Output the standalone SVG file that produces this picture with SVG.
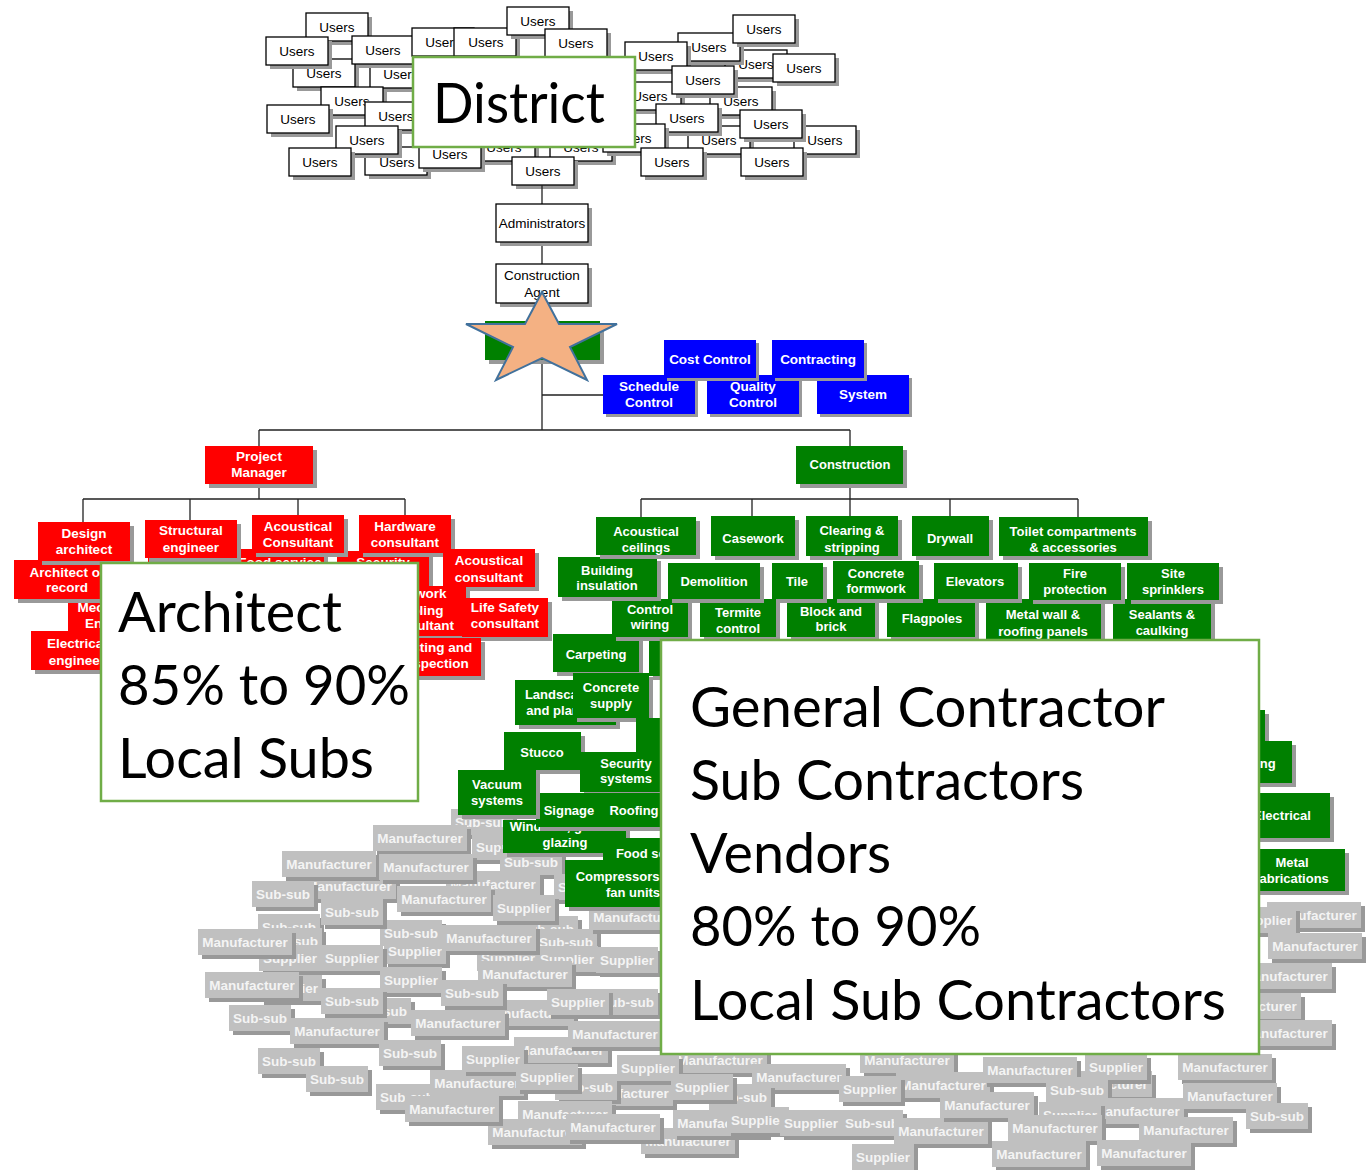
<svg xmlns="http://www.w3.org/2000/svg" width="1372" height="1170" viewBox="0 0 1372 1170">
<style>
.ut{font:13.5px 'Liberation Sans',Arial,sans-serif;fill:#000;text-anchor:middle}
.wt{font:bold 13.5px 'Liberation Sans',Arial,sans-serif;fill:#fff;text-anchor:middle}
.wg{font:bold 13px 'Liberation Sans',Arial,sans-serif;fill:#fff;text-anchor:middle}
.gt{font:bold 13.5px 'Liberation Sans',Arial,sans-serif;fill:#f4f4f4;text-anchor:middle}
.big{font-family:Lato,'Open Sans',sans-serif;font-size:57px;fill:#000}
.sh{fill:#999}
.gr{fill:#008000}
.rd{fill:#ff0000}
.bl{fill:#0000ff}
.gy{fill:#c0c0c0}
.wb{fill:#fff;stroke:#000;stroke-width:1.3}
.ov{fill:#fff;stroke:#70ad47;stroke-width:2.5}
.ln{stroke:#222;stroke-width:1.3;fill:none}
</style>
<defs>
  <g id="ubox"><rect class="sh" x="4" y="4" width="62" height="28"/><rect class="wb" width="62" height="28"/></g>
  <g id="gm"><rect class="sh" x="4" y="4" width="94" height="26"/><rect class="gy" width="94" height="26"/></g>
  <g id="gs"><rect class="sh" x="4" y="4" width="62" height="26"/><rect class="gy" width="62" height="26"/></g>
</defs>
<rect width="1372" height="1170" fill="#fff"/>

<!-- users, left cluster -->
<g id="users-left">
  <g id="u1"><use href="#ubox" x="306" y="13"/><text class="ut" x="337" y="32">Users</text></g>
  <g id="u2"><use href="#ubox" x="370" y="60"/><text class="ut" x="401" y="79">Users</text></g>
  <g id="u3"><use href="#ubox" x="293" y="59"/><text class="ut" x="324" y="78">Users</text></g>
  <g id="u4"><use href="#ubox" x="352" y="36"/><text class="ut" x="383" y="55">Users</text></g>
  <g id="u5"><use href="#ubox" x="266" y="37"/><text class="ut" x="297" y="56">Users</text></g>
  <g id="u6"><use href="#ubox" x="321" y="87"/><text class="ut" x="352" y="106">Users</text></g>
  <g id="u7"><use href="#ubox" x="365" y="102"/><text class="ut" x="396" y="121">Users</text></g>
  <g id="u8"><use href="#ubox" x="267" y="105"/><text class="ut" x="298" y="124">Users</text></g>
  <g id="u9"><use href="#ubox" x="365" y="147"/><text class="ut" x="397" y="167">Users</text></g>
  <g id="u10"><use href="#ubox" x="336" y="126"/><text class="ut" x="367" y="145">Users</text></g>
  <g id="u11"><use href="#ubox" x="289" y="148"/><text class="ut" x="320" y="167">Users</text></g>
  <g id="u12"><use href="#ubox" x="412" y="28"/><text class="ut" x="443" y="47">Users</text></g>
  <g id="u13"><use href="#ubox" x="454" y="28"/><text class="ut" x="486" y="47">Users</text></g>
  <g id="u14"><use href="#ubox" x="507" y="7"/><text class="ut" x="538" y="26">Users</text></g>
  <g id="u15"><use href="#ubox" x="545" y="29"/><text class="ut" x="576" y="48">Users</text></g>
  <g id="u16"><use href="#ubox" x="473" y="133"/><text class="ut" x="504" y="152">Users</text></g>
  <g id="u17"><use href="#ubox" x="550" y="133"/><text class="ut" x="581" y="152">Users</text></g>
  <g id="u18"><use href="#ubox" x="419" y="140"/><text class="ut" x="450" y="159">Users</text></g>
  <g id="u19"><use href="#ubox" x="512" y="157"/><text class="ut" x="543" y="176">Users</text></g>
</g>

<!-- users, right cluster -->
<g id="users-right">
  <g id="u20"><use href="#ubox" x="725" y="50"/><text class="ut" x="756" y="69">Users</text></g>
  <g id="u21"><use href="#ubox" x="678" y="33"/><text class="ut" x="709" y="52">Users</text></g>
  <g id="u22"><use href="#ubox" x="733" y="15"/><text class="ut" x="764" y="34">Users</text></g>
  <g id="u23"><use href="#ubox" x="625" y="42"/><text class="ut" x="656" y="61">Users</text></g>
  <g id="u24"><use href="#ubox" x="773" y="54"/><text class="ut" x="804" y="73">Users</text></g>
  <g id="u25"><use href="#ubox" x="710" y="87"/><text class="ut" x="741" y="106">Users</text></g>
  <g id="u26"><use href="#ubox" x="619" y="82"/><text class="ut" x="650" y="101">Users</text></g>
  <g id="u27"><use href="#ubox" x="672" y="66"/><text class="ut" x="703" y="85">Users</text></g>
  <g id="u28"><use href="#ubox" x="794" y="126"/><text class="ut" x="825" y="145">Users</text></g>
  <g id="u29"><use href="#ubox" x="688" y="126"/><text class="ut" x="719" y="145">Users</text></g>
  <g id="u30"><use href="#ubox" x="740" y="110"/><text class="ut" x="771" y="129">Users</text></g>
  <g id="u31"><use href="#ubox" x="656" y="104"/><text class="ut" x="687" y="123">Users</text></g>
  <g id="u32"><use href="#ubox" x="603" y="124"/><text class="ut" x="634" y="143">Users</text></g>
  <g id="u33"><use href="#ubox" x="641" y="148"/><text class="ut" x="672" y="167">Users</text></g>
  <g id="u34"><use href="#ubox" x="741" y="148"/><text class="ut" x="772" y="167">Users</text></g>
</g>

<g id="district">
  <rect class="ov" x="413" y="57" width="222" height="90"/>
  <text class="big" x="433" y="123" textLength="172" lengthAdjust="spacingAndGlyphs">District</text>
</g>

<!-- connectors -->
<g id="connectors" class="ln">
  <path d="M542 185V204M542 242V264M542 303V430M259 430H850M259 430V446M850 430V446M542 395H603"/>
  <path d="M259 484V499M83 499H405M83 499V522M190 499V520M298 499V515M405 499V515"/>
  <path d="M850 484V499M641 499H1078M641 499V517M752 499V516M850 499V516M950 499V516M1078 499V517"/>
</g>

<g id="administrators">
  <rect class="sh" x="500" y="208" width="92" height="38"/><rect class="wb" x="496" y="204" width="92" height="38"/>
  <text class="ut" x="542" y="228">Administrators</text>
</g>
<g id="construction-agent">
  <rect class="sh" x="500" y="268" width="92" height="39"/><rect class="wb" x="496" y="264" width="92" height="39"/>
  <text class="ut"><tspan x="542" y="280">Construction</tspan><tspan x="542" y="297">Agent</tspan></text>
</g>
<g id="program-box">
  <rect class="sh" x="489" y="325" width="115" height="39"/><rect class="gr" x="485" y="321" width="115" height="39"/>
</g>
<g id="star">
  <polygon points="542,292 559,324 617,324 570,347 587,380 542,358 496,380 513,347 466,324 525,324" fill="#f4b183" stroke="#41719c" stroke-width="2" stroke-linejoin="miter"/>
</g>

<!-- blue functions -->
<g id="schedule-control"><rect class="sh" x="606" y="378" width="92" height="39"/><rect class="bl" x="603" y="375" width="92" height="39"/><text class="wt"><tspan x="649" y="391">Schedule</tspan><tspan x="649" y="407">Control</tspan></text></g>
<g id="quality-control"><rect class="sh" x="710" y="378" width="92" height="39"/><rect class="bl" x="707" y="375" width="92" height="39"/><text class="wt"><tspan x="753" y="391">Quality</tspan><tspan x="753" y="407">Control</tspan></text></g>
<g id="system"><rect class="sh" x="820" y="378" width="92" height="39"/><rect class="bl" x="817" y="375" width="92" height="39"/><text class="wt" x="863" y="399">System</text></g>
<g id="cost-control"><rect class="sh" x="667" y="343" width="92" height="38"/><rect class="bl" x="664" y="340" width="92" height="38"/><text class="wt" x="710" y="364">Cost Control</text></g>
<g id="contracting"><rect class="sh" x="775" y="343" width="92" height="38"/><rect class="bl" x="772" y="340" width="92" height="38"/><text class="wt" x="818" y="364">Contracting</text></g>

<!-- red consultants -->
<g id="project-manager"><rect class="sh" x="209" y="450" width="108" height="38"/><rect class="rd" x="205" y="446" width="108" height="38"/><text class="wt"><tspan x="259" y="461">Project</tspan><tspan x="259" y="477">Manager</tspan></text></g>
<g id="food-service"><rect class="sh" x="240" y="553" width="88" height="40"/><rect class="rd" x="236" y="549" width="88" height="40"/><text class="wt" x="280" y="567">Food service</text></g>
<g id="security-consultant"><rect class="sh" x="341" y="555" width="92" height="40"/><rect class="rd" x="337" y="551" width="92" height="40"/><text class="wt"><tspan x="383" y="567">Security</tspan><tspan x="383" y="583">consultant</tspan></text></g>
<g id="red-hidden"><rect class="sh" x="152" y="562" width="92" height="40"/><rect class="rd" x="148" y="558" width="92" height="40"/></g>
<g id="mechanical-engineer"><rect class="sh" x="72" y="601" width="92" height="38"/><rect class="rd" x="68" y="597" width="92" height="38"/><text class="wt"><tspan x="114" y="612">Mechanical</tspan><tspan x="114" y="628">Engineer</tspan></text></g>
<g id="architect-of-record"><rect class="sh" x="18" y="564" width="106" height="39"/><rect class="rd" x="14" y="560" width="106" height="39"/><text class="wt"><tspan x="67" y="577">Architect of</tspan><tspan x="67" y="592">record</tspan></text></g>
<g id="electrical-engineer"><rect class="sh" x="35" y="635" width="92" height="39"/><rect class="rd" x="31" y="631" width="92" height="39"/><text class="wt"><tspan x="77" y="648">Electrical</tspan><tspan x="77" y="665">engineer</tspan></text></g>
<g id="design-architect"><rect class="sh" x="42" y="526" width="92" height="39"/><rect class="rd" x="38" y="522" width="92" height="39"/><text class="wt"><tspan x="84" y="538">Design</tspan><tspan x="84" y="554">architect</tspan></text></g>
<g id="structural-engineer"><rect class="sh" x="149" y="524" width="92" height="38"/><rect class="rd" x="145" y="520" width="92" height="38"/><text class="wt"><tspan x="191" y="535">Structural</tspan><tspan x="191" y="552">engineer</tspan></text></g>
<g id="acoustical-consultant-1"><rect class="sh" x="256" y="519" width="92" height="38"/><rect class="rd" x="252" y="515" width="92" height="38"/><text class="wt"><tspan x="298" y="531">Acoustical</tspan><tspan x="298" y="547">Consultant</tspan></text></g>
<g id="hardware-consultant"><rect class="sh" x="363" y="519" width="92" height="38"/><rect class="rd" x="359" y="515" width="92" height="38"/><text class="wt"><tspan x="405" y="531">Hardware</tspan><tspan x="405" y="547">consultant</tspan></text></g>
<g id="acoustical-consultant-2"><rect class="sh" x="447" y="553" width="92" height="38"/><rect class="rd" x="443" y="549" width="92" height="38"/><text class="wt"><tspan x="489" y="565">Acoustical</tspan><tspan x="489" y="582">consultant</tspan></text></g>
<g id="network-cabling"><rect class="sh" x="378" y="590" width="92" height="50"/><rect class="rd" x="374" y="586" width="92" height="50"/><text class="wt"><tspan x="420" y="598">Network</tspan><tspan x="420" y="615">cabling</tspan><tspan x="420" y="630">consultant</tspan></text></g>
<g id="life-safety"><rect class="sh" x="466" y="602" width="86" height="39"/><rect class="rd" x="462" y="598" width="86" height="39"/><text class="wt"><tspan x="505" y="612">Life Safety</tspan><tspan x="505" y="628">consultant</tspan></text></g>
<g id="testing-inspection"><rect class="sh" x="393" y="642" width="92" height="38"/><rect class="rd" x="389" y="638" width="92" height="38"/><text class="wt"><tspan x="435" y="652">Testing and</tspan><tspan x="435" y="668">inspection</tspan></text></g>

<g id="architect-panel">
  <rect class="ov" x="101" y="563" width="317" height="238"/>
  <text class="big" x="118" y="632" textLength="224" lengthAdjust="spacingAndGlyphs">Architect</text>
  <text class="big" x="118" y="705" textLength="292" lengthAdjust="spacingAndGlyphs">85% to 90%</text>
  <text class="big" x="118" y="778" textLength="256" lengthAdjust="spacingAndGlyphs">Local Subs</text>
</g>

<!-- gray vendors -->
<g id="vendors" class="gt">
  <g id="v1"><use href="#gs" x="451" y="809"/><text x="482" y="827">Sub-sub</text></g>
  <g id="v2"><use href="#gs" x="472" y="834"/><text x="503" y="852">Supplier</text></g>
  <g id="v3"><use href="#gs" x="500" y="849"/><text x="531" y="867">Sub-sub</text></g>
  <g id="v4"><use href="#gm" x="446" y="871"/><text x="493" y="889">Manufacturer</text></g>
  <g id="v5"><use href="#gm" x="302" y="873"/><text x="349" y="891">Manufacturer</text></g>
  <g id="v6"><use href="#gs" x="258" y="914"/><text x="289" y="932">Sub-sub</text></g>
  <g id="v7"><use href="#gs" x="260" y="928"/><text x="291" y="946">Sub-sub</text></g>
  <g id="v8"><use href="#gs" x="259" y="945"/><text x="290" y="963">Supplier</text></g>
  <g id="v9"><use href="#gs" x="380" y="920"/><text x="411" y="938">Sub-sub</text></g>
  <g id="v10"><use href="#gs" x="384" y="938"/><text x="415" y="956">Supplier</text></g>
  <g id="v11"><use href="#gs" x="516" y="916"/><text x="547" y="934">Sub-sub</text></g>
  <g id="v12"><use href="#gs" x="535" y="929"/><text x="566" y="947">Sub-sub</text></g>
  <g id="v13"><use href="#gs" x="477" y="945"/><text x="508" y="963">Supplier</text></g>
  <g id="v14"><use href="#gs" x="536" y="946"/><text x="567" y="964">Supplier</text></g>
  <g id="v15"><use href="#gs" x="596" y="947"/><text x="627" y="965">Supplier</text></g>
  <g id="v16"><use href="#gm" x="478" y="961"/><text x="525" y="979">Manufacturer</text></g>
  <g id="v17"><use href="#gs" x="260" y="975"/><text x="291" y="993">Supplier</text></g>
  <g id="v18"><use href="#gs" x="349" y="998"/><text x="380" y="1016">Sub-sub</text></g>
  <g id="v19"><use href="#gm" x="480" y="1000"/><text x="527" y="1018">Manufacturer</text></g>
  <g id="v20"><use href="#gm" x="514" y="1037"/><text x="561" y="1055">Manufacturer</text></g>
  <g id="v21"><use href="#gm" x="579" y="1080"/><text x="626" y="1098">Manufacturer</text></g>
  <g id="v22"><use href="#gs" x="555" y="1074"/><text x="586" y="1092">Sub-sub</text></g>
  <g id="v23"><use href="#gs" x="376" y="1084"/><text x="407" y="1102">Sub-sub</text></g>
  <g id="v24"><use href="#gm" x="518" y="1101"/><text x="565" y="1119">Manufacturer</text></g>
  <g id="v25"><use href="#gm" x="488" y="1119"/><text x="535" y="1137">Manufacturer</text></g>
  <g id="v26"><use href="#gm" x="430" y="1070"/><text x="477" y="1088">Manufacturer</text></g>
  <g id="v27"><use href="#gm" x="589" y="904"/><text x="636" y="922">Manufacturer</text></g>
  <g id="v28"><use href="#gs" x="554" y="874"/><text x="585" y="892">Supplier</text></g>
  <g id="v29"><use href="#gs" x="596" y="989"/><text x="627" y="1007">Sub-sub</text></g>
  <g id="v30"><use href="#gs" x="547" y="989"/><text x="578" y="1007">Supplier</text></g>
  <g id="v31"><use href="#gm" x="568" y="1021"/><text x="615" y="1039">Manufacturer</text></g>
  <g id="v32"><use href="#gm" x="673" y="1047"/><text x="720" y="1065">Manufacturer</text></g>
  <g id="v33"><use href="#gm" x="860" y="1047"/><text x="907" y="1065">Manufacturer</text></g>
  <g id="v34"><use href="#gs" x="617" y="1055"/><text x="648" y="1073">Supplier</text></g>
  <g id="v35"><use href="#gm" x="752" y="1064"/><text x="799" y="1082">Manufacturer</text></g>
  <g id="v36"><use href="#gm" x="896" y="1072"/><text x="943" y="1090">Manufacturer</text></g>
  <g id="v37"><use href="#gs" x="839" y="1076"/><text x="870" y="1094">Supplier</text></g>
  <g id="v38"><use href="#gs" x="709" y="1084"/><text x="740" y="1102">Sub-sub</text></g>
  <g id="v39"><use href="#gs" x="671" y="1074"/><text x="702" y="1092">Supplier</text></g>
  <g id="v40"><use href="#gm" x="641" y="1128"/><text x="688" y="1146">Manufacturer</text></g>
  <g id="v41"><use href="#gm" x="566" y="1114"/><text x="613" y="1132">Manufacturer</text></g>
  <g id="v42"><use href="#gm" x="673" y="1110"/><text x="720" y="1128">Manufacturer</text></g>
  <g id="v43"><use href="#gs" x="727" y="1107"/><text x="758" y="1125">Supplier</text></g>
  <g id="v44"><use href="#gs" x="780" y="1110"/><text x="811" y="1128">Supplier</text></g>
  <g id="v45"><use href="#gs" x="841" y="1110"/><text x="872" y="1128">Sub-sub</text></g>
  <g id="v46"><use href="#gm" x="894" y="1118"/><text x="941" y="1136">Manufacturer</text></g>
  <g id="v47"><use href="#gs" x="852" y="1144"/><text x="883" y="1162">Supplier</text></g>
  <g id="v48"><use href="#gm" x="1058" y="1071"/><text x="1105" y="1089">Manufacturer</text></g>
  <g id="v49"><use href="#gm" x="983" y="1057"/><text x="1030" y="1075">Manufacturer</text></g>
  <g id="v50"><use href="#gs" x="1085" y="1054"/><text x="1116" y="1072">Supplier</text></g>
  <g id="v51"><use href="#gm" x="1178" y="1054"/><text x="1225" y="1072">Manufacturer</text></g>
  <g id="v52"><use href="#gs" x="1046" y="1077"/><text x="1077" y="1095">Sub-sub</text></g>
  <g id="v53"><use href="#gm" x="1090" y="1098"/><text x="1137" y="1116">Manufacturer</text></g>
  <g id="v54"><use href="#gs" x="1039" y="1102"/><text x="1070" y="1120">Supplier</text></g>
  <g id="v55"><use href="#gm" x="940" y="1092"/><text x="987" y="1110">Manufacturer</text></g>
  <g id="v56"><use href="#gm" x="1183" y="1083"/><text x="1230" y="1101">Manufacturer</text></g>
  <g id="v57"><use href="#gs" x="1246" y="1103"/><text x="1277" y="1121">Sub-sub</text></g>
  <g id="v58"><use href="#gm" x="1008" y="1115"/><text x="1055" y="1133">Manufacturer</text></g>
  <g id="v59"><use href="#gm" x="1139" y="1117"/><text x="1186" y="1135">Manufacturer</text></g>
  <g id="v60"><use href="#gm" x="992" y="1141"/><text x="1039" y="1159">Manufacturer</text></g>
  <g id="v61"><use href="#gm" x="1097" y="1140"/><text x="1144" y="1158">Manufacturer</text></g>
  <g id="v62"><use href="#gm" x="1267" y="902"/><text x="1314" y="920">Manufacturer</text></g>
  <g id="v63"><use href="#gs" x="1234" y="907"/><text x="1265" y="925">Supplier</text></g>
  <g id="v64"><use href="#gm" x="1268" y="933"/><text x="1315" y="951">Manufacturer</text></g>
  <g id="v65"><use href="#gm" x="1238" y="963"/><text x="1285" y="981">Manufacturer</text></g>
  <g id="v66"><use href="#gm" x="1207" y="993"/><text x="1254" y="1011">Manufacturer</text></g>
  <g id="v67"><use href="#gm" x="1238" y="1020"/><text x="1285" y="1038">Manufacturer</text></g>
  <g id="v68"><use href="#gm" x="373" y="825"/><text x="420" y="843">Manufacturer</text></g>
  <g id="v69"><use href="#gm" x="282" y="851"/><text x="329" y="869">Manufacturer</text></g>
  <g id="v70"><use href="#gm" x="379" y="854"/><text x="426" y="872">Manufacturer</text></g>
  <g id="v71"><use href="#gs" x="252" y="881"/><text x="283" y="899">Sub-sub</text></g>
  <g id="v72"><use href="#gm" x="397" y="886"/><text x="444" y="904">Manufacturer</text></g>
  <g id="v73"><use href="#gs" x="493" y="895"/><text x="524" y="913">Supplier</text></g>
  <g id="v74"><use href="#gs" x="321" y="899"/><text x="352" y="917">Sub-sub</text></g>
  <g id="v75"><use href="#gm" x="442" y="925"/><text x="489" y="943">Manufacturer</text></g>
  <g id="v76"><use href="#gm" x="198" y="929"/><text x="245" y="947">Manufacturer</text></g>
  <g id="v77"><use href="#gs" x="321" y="945"/><text x="352" y="963">Supplier</text></g>
  <g id="v78"><use href="#gs" x="380" y="967"/><text x="411" y="985">Supplier</text></g>
  <g id="v79"><use href="#gm" x="205" y="972"/><text x="252" y="990">Manufacturer</text></g>
  <g id="v80"><use href="#gs" x="321" y="988"/><text x="352" y="1006">Sub-sub</text></g>
  <g id="v81"><use href="#gs" x="441" y="980"/><text x="472" y="998">Sub-sub</text></g>
  <g id="v82"><use href="#gs" x="229" y="1005"/><text x="260" y="1023">Sub-sub</text></g>
  <g id="v83"><use href="#gm" x="411" y="1010"/><text x="458" y="1028">Manufacturer</text></g>
  <g id="v84"><use href="#gm" x="290" y="1018"/><text x="337" y="1036">Manufacturer</text></g>
  <g id="v85"><use href="#gs" x="379" y="1040"/><text x="410" y="1058">Sub-sub</text></g>
  <g id="v86"><use href="#gs" x="462" y="1046"/><text x="493" y="1064">Supplier</text></g>
  <g id="v87"><use href="#gs" x="258" y="1048"/><text x="289" y="1066">Sub-sub</text></g>
  <g id="v88"><use href="#gs" x="516" y="1064"/><text x="547" y="1082">Supplier</text></g>
  <g id="v89"><use href="#gs" x="306" y="1066"/><text x="337" y="1084">Sub-sub</text></g>
  <g id="v90"><use href="#gm" x="405" y="1096"/><text x="452" y="1114">Manufacturer</text></g>
</g>

<!-- green trades -->
<g id="construction"><rect class="sh" x="800" y="450" width="107" height="38"/><rect class="gr" x="796" y="446" width="107" height="38"/><text class="wg" x="850" y="469">Construction</text></g>
<g id="carpeting"><rect class="sh" x="557" y="638" width="86" height="38"/><rect class="gr" x="553" y="634" width="86" height="38"/><text class="wg" x="596" y="659">Carpeting</text></g>
<g id="trade-a"><rect class="sh" x="653" y="644" width="92" height="36"/><rect class="gr" x="649" y="640" width="92" height="36"/></g>
<g id="control-wiring"><rect class="sh" x="616" y="603" width="76" height="38"/><rect class="gr" x="612" y="599" width="76" height="38"/><text class="wg"><tspan x="650" y="614">Control</tspan><tspan x="650" y="629">wiring</tspan></text></g>
<g id="termite-control"><rect class="sh" x="704" y="603" width="76" height="38"/><rect class="gr" x="700" y="599" width="76" height="38"/><text class="wg"><tspan x="738" y="617">Termite</tspan><tspan x="738" y="633">control</tspan></text></g>
<g id="block-brick"><rect class="sh" x="791" y="603" width="88" height="38"/><rect class="gr" x="787" y="599" width="88" height="38"/><text class="wg"><tspan x="831" y="616">Block and</tspan><tspan x="831" y="631">brick</tspan></text></g>
<g id="flagpoles"><rect class="sh" x="891" y="603" width="88" height="38"/><rect class="gr" x="887" y="599" width="88" height="38"/><text class="wg" x="932" y="623">Flagpoles</text></g>
<g id="metal-wall"><rect class="sh" x="990" y="603" width="115" height="41"/><rect class="gr" x="986" y="599" width="115" height="41"/><text class="wg"><tspan x="1043" y="619">Metal wall &amp;</tspan><tspan x="1043" y="636">roofing panels</tspan></text></g>
<g id="sealants"><rect class="sh" x="1117" y="603" width="98" height="41"/><rect class="gr" x="1113" y="599" width="98" height="41"/><text class="wg"><tspan x="1162" y="619">Sealants &amp;</tspan><tspan x="1162" y="635">caulking</tspan></text></g>
<g id="building-insulation"><rect class="sh" x="562" y="561" width="99" height="40"/><rect class="gr" x="558" y="557" width="99" height="40"/><text class="wg"><tspan x="607" y="575">Building</tspan><tspan x="607" y="590">insulation</tspan></text></g>
<g id="demolition"><rect class="sh" x="672" y="567" width="92" height="36"/><rect class="gr" x="668" y="563" width="92" height="36"/><text class="wg" x="714" y="586">Demolition</text></g>
<g id="tile"><rect class="sh" x="776" y="567" width="51" height="36"/><rect class="gr" x="772" y="563" width="51" height="36"/><text class="wg" x="797" y="586">Tile</text></g>
<g id="concrete-formwork"><rect class="sh" x="837" y="565" width="86" height="38"/><rect class="gr" x="833" y="561" width="86" height="38"/><text class="wg"><tspan x="876" y="578">Concrete</tspan><tspan x="876" y="593">formwork</tspan></text></g>
<g id="elevators"><rect class="sh" x="938" y="567" width="84" height="36"/><rect class="gr" x="934" y="563" width="84" height="36"/><text class="wg" x="975" y="586">Elevators</text></g>
<g id="fire-protection"><rect class="sh" x="1033" y="567" width="92" height="37"/><rect class="gr" x="1029" y="563" width="92" height="37"/><text class="wg"><tspan x="1075" y="578">Fire</tspan><tspan x="1075" y="594">protection</tspan></text></g>
<g id="site-sprinklers"><rect class="sh" x="1131" y="567" width="92" height="37"/><rect class="gr" x="1127" y="563" width="92" height="37"/><text class="wg"><tspan x="1173" y="578">Site</tspan><tspan x="1173" y="594">sprinklers</tspan></text></g>
<g id="acoustical-ceilings"><rect class="sh" x="600" y="521" width="100" height="38"/><rect class="gr" x="596" y="517" width="100" height="38"/><text class="wg"><tspan x="646" y="536">Acoustical</tspan><tspan x="646" y="552">ceilings</tspan></text></g>
<g id="casework"><rect class="sh" x="715" y="520" width="84" height="40"/><rect class="gr" x="711" y="516" width="84" height="40"/><text class="wg" x="753" y="543">Casework</text></g>
<g id="clearing"><rect class="sh" x="810" y="520" width="92" height="40"/><rect class="gr" x="806" y="516" width="92" height="40"/><text class="wg"><tspan x="852" y="535">Clearing &amp;</tspan><tspan x="852" y="552">stripping</tspan></text></g>
<g id="drywall"><rect class="sh" x="916" y="520" width="77" height="40"/><rect class="gr" x="912" y="516" width="77" height="40"/><text class="wg" x="950" y="543">Drywall</text></g>
<g id="toilet"><rect class="sh" x="1003" y="521" width="149" height="39"/><rect class="gr" x="999" y="517" width="149" height="39"/><text class="wg"><tspan x="1073" y="536">Toilet compartments</tspan><tspan x="1073" y="552">&amp; accessories</tspan></text></g>
<g id="landscaping"><rect class="sh" x="519" y="684" width="101" height="45"/><rect class="gr" x="515" y="680" width="101" height="45"/><text class="wg"><tspan x="565" y="699">Landscaping</tspan><tspan x="565" y="715">and planting</tspan></text></g>
<g id="concrete-supply"><rect class="sh" x="577" y="677" width="76" height="45"/><rect class="gr" x="573" y="673" width="76" height="45"/><text class="wg"><tspan x="611" y="692">Concrete</tspan><tspan x="611" y="708">supply</tspan></text></g>
<g id="trade-b"><rect class="sh" x="640" y="722" width="92" height="36"/><rect class="gr" x="636" y="718" width="92" height="36"/></g>
<g id="stucco"><rect class="sh" x="508" y="736" width="77" height="38"/><rect class="gr" x="504" y="732" width="77" height="38"/><text class="wg" x="542" y="757">Stucco</text></g>
<g id="security-systems"><rect class="sh" x="584" y="756" width="92" height="40"/><rect class="gr" x="580" y="752" width="92" height="40"/><text class="wg"><tspan x="626" y="768">Security</tspan><tspan x="626" y="783">systems</tspan></text></g>
<g id="windows"><rect class="sh" x="507" y="824" width="123" height="33"/><rect class="gr" x="503" y="820" width="123" height="33"/><text class="wg"><tspan x="565" y="831">Windows, glass &amp;</tspan><tspan x="565" y="847">glazing</tspan></text></g>
<g id="signage"><rect class="sh" x="540" y="797" width="67" height="34"/><rect class="gr" x="536" y="793" width="67" height="34"/><text class="wg" x="569" y="815">Signage</text></g>
<g id="roofing"><rect class="sh" x="607" y="797" width="62" height="34"/><rect class="gr" x="603" y="793" width="62" height="34"/><text class="wg" x="634" y="815">Roofing</text></g>
<g id="vacuum"><rect class="sh" x="462" y="774" width="78" height="45"/><rect class="gr" x="458" y="770" width="78" height="45"/><text class="wg"><tspan x="497" y="789">Vacuum</tspan><tspan x="497" y="805">systems</tspan></text></g>
<g id="food-service-eq"><rect class="sh" x="607" y="842" width="106" height="40"/><rect class="gr" x="603" y="838" width="106" height="40"/><text class="wg" x="656" y="858">Food service</text></g>
<g id="compressors"><rect class="sh" x="569" y="864" width="130" height="47"/><rect class="gr" x="565" y="860" width="130" height="47"/><text class="wg"><tspan x="631" y="881">Compressors and</tspan><tspan x="633" y="897">fan units</tspan></text></g>
<g id="trade-c"><rect class="sh" x="1177" y="714" width="92" height="37"/><rect class="gr" x="1173" y="710" width="92" height="37"/></g>
<g id="plumbing"><rect class="sh" x="1204" y="745" width="92" height="42"/><rect class="gr" x="1200" y="741" width="92" height="42"/><text class="wg" x="1246" y="768">Plumbing</text></g>
<g id="electrical"><rect class="sh" x="1238" y="797" width="96" height="45"/><rect class="gr" x="1234" y="793" width="96" height="45"/><text class="wg" x="1282" y="820">Electrical</text></g>
<g id="metal-fabrications"><rect class="sh" x="1243" y="853" width="106" height="42"/><rect class="gr" x="1239" y="849" width="106" height="42"/><text class="wg"><tspan x="1292" y="867">Metal</tspan><tspan x="1292" y="883">fabrications</tspan></text></g>

<g id="contractor-panel">
  <rect class="ov" x="661" y="640" width="598" height="414"/>
  <text class="big" x="690" y="727" textLength="475" lengthAdjust="spacingAndGlyphs">General Contractor</text>
  <text class="big" x="690" y="800" textLength="394" lengthAdjust="spacingAndGlyphs">Sub Contractors</text>
  <text class="big" x="690" y="873" textLength="201" lengthAdjust="spacingAndGlyphs">Vendors</text>
  <text class="big" x="690" y="946" textLength="291" lengthAdjust="spacingAndGlyphs">80% to 90%</text>
  <text class="big" x="690" y="1020" textLength="536" lengthAdjust="spacingAndGlyphs">Local Sub Contractors</text>
</g>
</svg>
